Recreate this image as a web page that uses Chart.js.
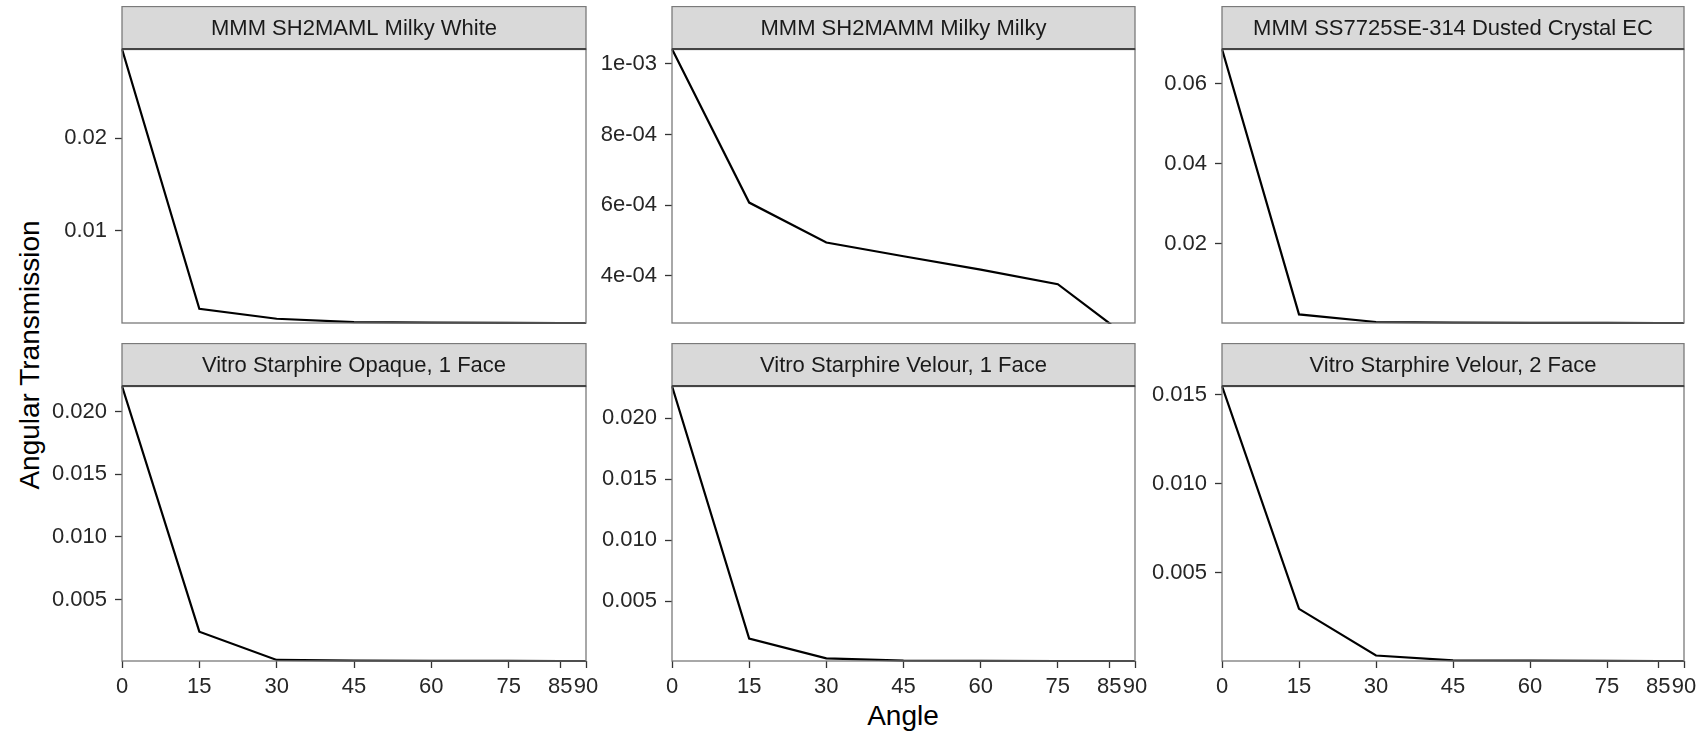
<!DOCTYPE html>
<html lang="en">
<head>
  <meta charset="UTF-8">
  <title>Angular Transmission</title>
  <script src="https://cdn.jsdelivr.net/npm/chart.js"></script>
  <style>
    body {
      margin: 0;
      background: #ffffff;
      font-family: 'Liberation Sans', Arial, sans-serif;
    }
    #figure {
      position: relative;
      width: 1698px;
      height: 734px;
      background: #ffffff;
      overflow: hidden;
    }
    #figure canvas {
      position: absolute;
    }
    .axis-title {
      position: absolute;
      font-size: 28px;
      color: #000;
      white-space: nowrap;
    }
    #xTitle {
      left: 903px;
      top: 716px;
      transform: translate(-50%, -50%);
    }
    #yTitle {
      left: 30px;
      top: 355px;
      transform: translate(-50%, -50%) rotate(-90deg);
    }
  </style>
</head>
<body>
  <div id="figure">
    <div class="axis-title" id="xTitle">Angle</div>
    <div class="axis-title" id="yTitle">Angular Transmission</div>
  </div>

  <script>
    // angles measured (x axis)
    const angles = [0, 15, 30, 45, 60, 75, 85, 90];
    const xTicks = [0, 15, 30, 45, 60, 75, 85, 90];

    const panelTitles = [
      'MMM SH2MAML Milky White',
      'MMM SH2MAMM Milky Milky',
      'MMM SS7725SE-314 Dusted Crystal EC',
      'Vitro Starphire Opaque, 1 Face',
      'Vitro Starphire Velour, 1 Face',
      'Vitro Starphire Velour, 2 Face'
    ];

    // angular transmission per sample
    const milkyWhite    = [0.0296, 0.0016, 0.00053, 0.00017, 0.00011, 0.00008, 0.00007, 0.00005];
    const milkyMilky    = [1.042e-3, 6.07e-4, 4.94e-4, 4.55e-4, 4.17e-4, 3.76e-4, 2.66e-4, 2.0e-4];
    const dustedCrystal = [0.0687, 0.00228, 0.00037, 0.00022, 0.00016, 0.00013, 0.00012, 0.0001];
    const opaque1Face   = [0.02205, 0.00243, 0.00017, 0.00012, 0.0001, 0.00009, 0.000088, 0.00008];
    const velour1Face   = [0.02264, 0.00192, 0.00031, 0.00012, 0.0001, 0.00009, 0.00009, 0.00008];
    const velour2Face   = [0.0155, 0.00298, 0.00036, 0.00009, 0.00007, 0.00006, 0.00005, 0.00004];

    // free y ranges of each facet
    const yMins = [0.00007, 2.66e-4, 0.00012, 0.000088, 0.00009, 0.00005];
    const yMaxs = [0.0296, 1.042e-3, 0.0687, 0.02205, 0.02264, 0.0155];

    // y tick values and labels of each facet
    const yTickValues = [
      [0.01, 0.02],
      [4e-4, 6e-4, 8e-4, 1e-3],
      [0.02, 0.04, 0.06],
      [0.005, 0.010, 0.015, 0.020],
      [0.005, 0.010, 0.015, 0.020],
      [0.005, 0.010, 0.015]
    ];
    const yTickLabels = [
      ['0.01', '0.02'],
      ['4e-04', '6e-04', '8e-04', '1e-03'],
      ['0.02', '0.04', '0.06'],
      ['0.005', '0.010', '0.015', '0.020'],
      ['0.005', '0.010', '0.015', '0.020'],
      ['0.005', '0.010', '0.015']
    ];

    const series = [milkyWhite, milkyMilky, dustedCrystal, opaque1Face, velour1Face, velour2Face];

    // facet grid geometry
    const cols = [{ l: 122, r: 586 }, { l: 672, r: 1135 }, { l: 1222, r: 1684 }];
    const rows = [{ stripTop: 6, plotTop: 49, plotBottom: 323 }, { stripTop: 343, plotTop: 386, plotBottom: 661 }];
    const yAxisWidth = 118;
    const rightPad = 24;
    const xAxisHeight = 44;

    const FONT = "'Liberation Sans', Arial, sans-serif";

    // draws the grey strip with the facet title and the panel box
    const facetPlugin = {
      id: 'facet',
      afterDraw(chart, args, opts) {
        const { ctx, chartArea: a } = chart;
        const stripH = opts.stripHeight;
        ctx.save();
        ctx.fillStyle = '#d9d9d9';
        ctx.fillRect(a.left, a.top - stripH, a.right - a.left, stripH);
        ctx.strokeStyle = '#7a7a7a';
        ctx.lineWidth = 1.3;
        ctx.strokeRect(a.left, a.top - stripH + 0.5, a.right - a.left, stripH);
        ctx.strokeRect(a.left, a.top, a.right - a.left, a.bottom - a.top);
        ctx.strokeStyle = '#444';
        ctx.lineWidth = 2;
        ctx.beginPath();
        ctx.moveTo(a.left, a.top);
        ctx.lineTo(a.right, a.top);
        ctx.stroke();
        ctx.fillStyle = '#1a1a1a';
        ctx.font = '22px ' + FONT;
        ctx.textAlign = 'center';
        ctx.textBaseline = 'middle';
        ctx.fillText(opts.title, (a.left + a.right) / 2, a.top - stripH / 2 + 1);
        ctx.restore();
      }
    };

    // no extra label padding: the facet geometry is fixed
    const noPadding = (scale) => {
      scale.paddingTop = 0;
      scale.paddingBottom = 0;
      scale.paddingLeft = 0;
      scale.paddingRight = 0;
    };

    const figure = document.getElementById('figure');

    series.forEach((values, i) => {
      const col = cols[i % 3];
      const row = rows[Math.floor(i / 3)];
      const bottomRow = i >= 3;
      const stripH = row.plotTop - row.stripTop;

      const canvas = document.createElement('canvas');
      const w = (col.r - col.l) + yAxisWidth + rightPad;
      const h = (row.plotBottom - row.stripTop) + (bottomRow ? xAxisHeight : 2);
      canvas.width = w;
      canvas.height = h;
      canvas.style.left = (col.l - yAxisWidth) + 'px';
      canvas.style.top = row.stripTop + 'px';
      canvas.style.width = w + 'px';
      canvas.style.height = h + 'px';
      figure.appendChild(canvas);

      new Chart(canvas, {
        type: 'line',
        data: {
          datasets: [{
            data: angles.map((a, k) => ({ x: a, y: values[k] })),
            borderColor: '#000000',
            borderWidth: 2.2,
            pointRadius: 0,
            tension: 0,
            fill: false,
            clip: 1
          }]
        },
        options: {
          responsive: false,
          animation: false,
          events: [],
          layout: {
            autoPadding: false,
            padding: { left: 0, right: rightPad, top: stripH, bottom: bottomRow ? 0 : 2 }
          },
          plugins: {
            legend: { display: false },
            tooltip: { enabled: false },
            facet: { title: panelTitles[i], stripHeight: stripH }
          },
          scales: {
            x: {
              type: 'linear',
              min: 0,
              max: 90,
              display: bottomRow,
              afterFit: (scale) => { scale.height = bottomRow ? xAxisHeight : 0; noPadding(scale); },
              afterBuildTicks: (scale) => { scale.ticks = xTicks.map(v => ({ value: v })); },
              border: { display: false },
              grid: {
                drawOnChartArea: false,
                drawTicks: true,
                tickLength: 7,
                tickWidth: 1.3,
                tickColor: '#333'
              },
              ticks: {
                autoSkip: false,
                maxRotation: 0,
                minRotation: 0,
                padding: 6,
                color: '#262626',
                font: { family: FONT, size: 22 },
                callback: (v) => String(v)
              }
            },
            y: {
              type: 'linear',
              min: yMins[i],
              max: yMaxs[i],
              afterFit: (scale) => { scale.width = yAxisWidth; noPadding(scale); },
              afterBuildTicks: (scale) => { scale.ticks = yTickValues[i].map(v => ({ value: v })); },
              border: { display: false },
              grid: {
                drawOnChartArea: false,
                drawTicks: true,
                tickLength: 7,
                tickWidth: 1.3,
                tickColor: '#333'
              },
              ticks: {
                autoSkip: false,
                padding: 8,
                color: '#262626',
                font: { family: FONT, size: 22 },
                callback: (v, idx) => yTickLabels[i][idx]
              }
            }
          }
        },
        plugins: [facetPlugin]
      });
    });
  </script>
</body>
</html>
